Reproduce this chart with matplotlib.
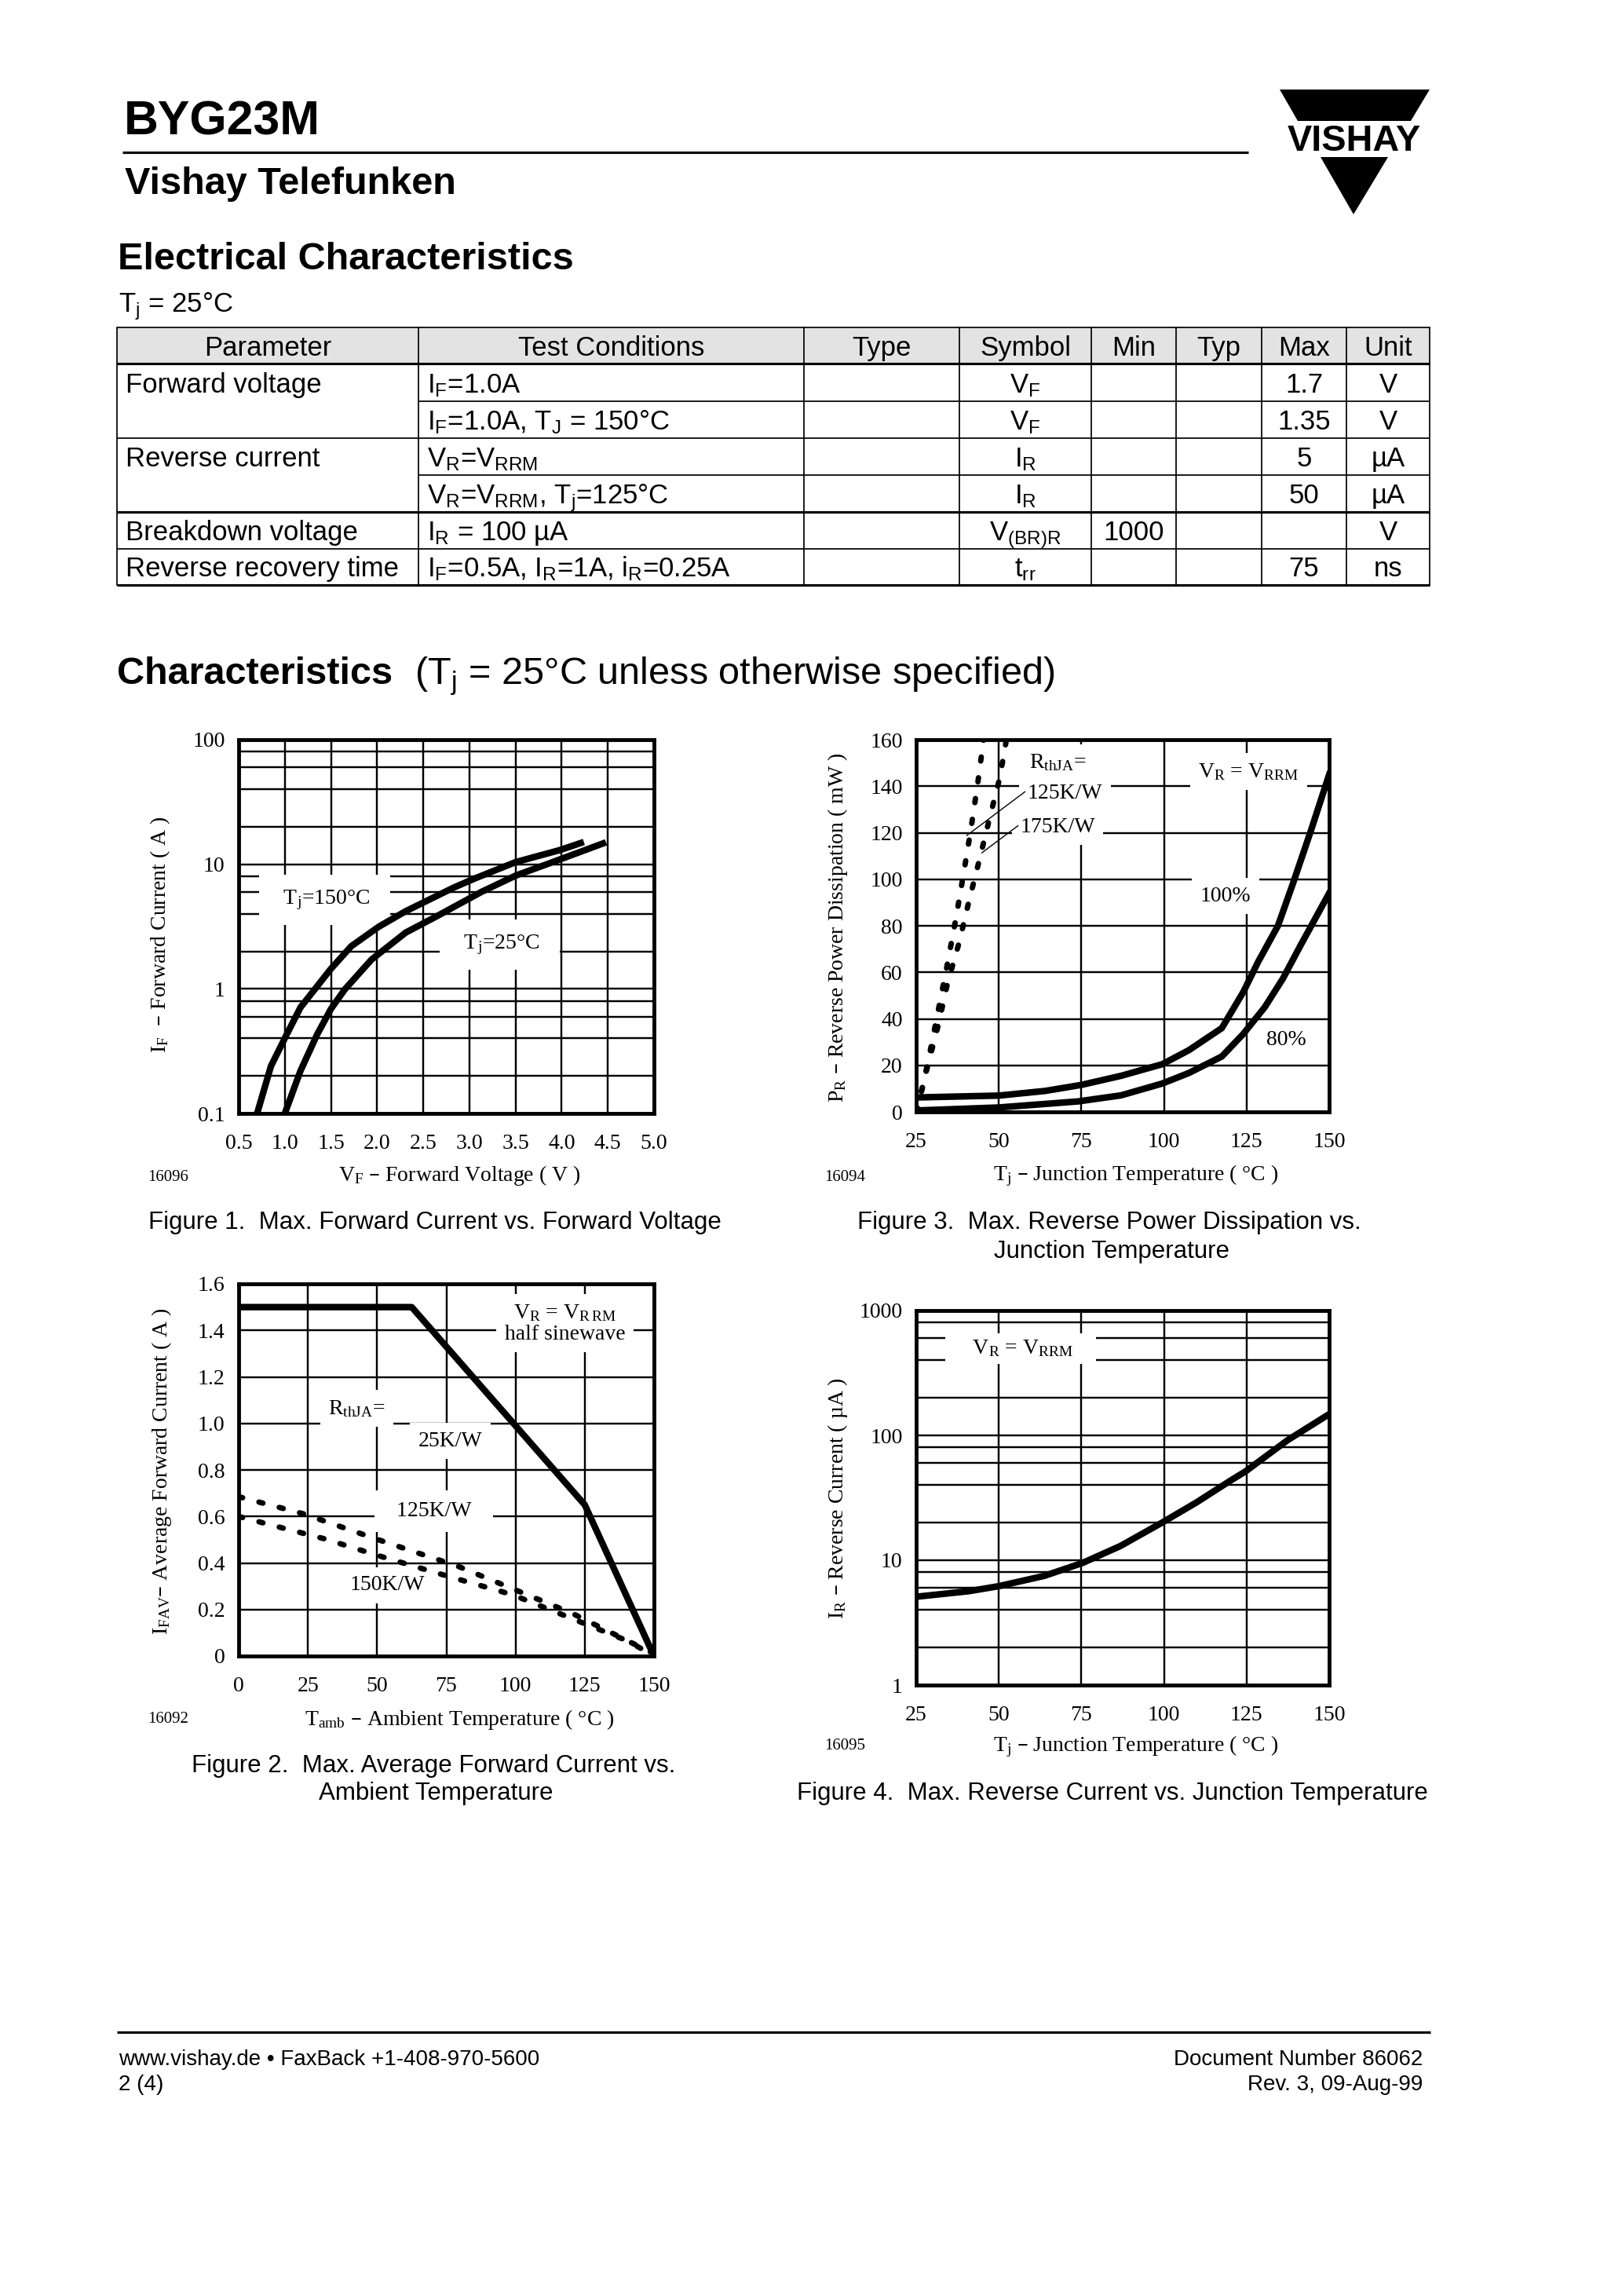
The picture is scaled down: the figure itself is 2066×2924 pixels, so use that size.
import matplotlib
matplotlib.use('Agg')
import matplotlib.pyplot as plt
from matplotlib.patches import Polygon, Rectangle
from matplotlib.ticker import NullFormatter

W, H = 2066, 2924
DPI = 250
SANS = 'Liberation Sans'
SERIF = 'Liberation Serif'

plt.rcParams['font.family'] = SERIF
plt.rcParams['mathtext.default'] = 'regular'

# ---------------- table data ----------------
table_header = ["Parameter", "Test Conditions", "Type", "Symbol", "Min", "Typ", "Max", "Unit"]
table_rows = [
    ["Forward voltage", "$I_F$=1.0A", "", "$V_F$", "", "", "1.7", "V"],
    ["", "$I_F$=1.0A, $T_J$ = 150°C", "", "$V_F$", "", "", "1.35", "V"],
    ["Reverse current", "$V_R$=$V_{RRM}$", "", "$I_R$", "", "", "5", "µA"],
    ["", "$V_R$=$V_{RRM}$, $T_j$=125°C", "", "$I_R$", "", "", "50", "µA"],
    ["Breakdown voltage", "$I_R$ = 100 µA", "", "$V_{(BR)R}$", "1000", "", "", "V"],
    ["Reverse recovery time", "$I_F$=0.5A, $I_R$=1A, $i_R$=0.25A", "", "$t_{rr}$", "", "", "75", "ns"],
]

# ---------------- figure 1: forward current ----------------
vf_150 = [0.70, 0.85, 1.02, 1.17, 1.50, 1.72, 2.02, 2.31, 2.83, 3.06, 3.50, 3.98, 4.24]
if_150 = [0.10, 0.24, 0.43, 0.71, 1.45, 2.2, 3.16, 4.2, 6.5, 7.7, 10.4, 13.0, 15.1]
vf_25 = [1.00, 1.17, 1.35, 1.50, 1.65, 1.94, 2.31, 2.65, 3.13, 3.50, 3.87, 4.48]
if_25 = [0.10, 0.22, 0.43, 0.69, 0.99, 1.72, 2.83, 3.84, 6.0, 8.1, 10.2, 15.0]
f1_xticks = [0.5, 1.0, 1.5, 2.0, 2.5, 3.0, 3.5, 4.0, 4.5, 5.0]
f1_xlabels = ["0.5", "1.0", "1.5", "2.0", "2.5", "3.0", "3.5", "4.0", "4.5", "5.0"]
f1_yticks = [0.1, 1, 10, 100]
f1_ylabels = ["0.1", "1", "10", "100"]
log_minor = [0.2, 0.4, 0.6, 0.8, 2, 4, 6, 8, 20, 40, 60, 80, 200, 400, 600, 800]

# ---------------- figure 3: reverse power dissipation ----------------
tj_100 = [25, 50, 64, 75, 87, 99.5, 107.5, 117.5, 124, 128.5, 134.5, 139, 144.5, 150]
pr_100 = [6.2, 7.0, 9.0, 11.6, 15.5, 20.5, 26.5, 36, 51.5, 64.5, 80, 98, 121, 145]
tj_80 = [25, 50, 74, 87, 99.5, 107.5, 117.5, 124, 130.5, 136, 141.5, 150]
pr_80 = [0.6, 1.9, 4.5, 7.1, 12.2, 16.7, 23.8, 33.5, 45, 57.3, 72, 94]
tj_r125 = [25, 27.0, 29.5, 32.0, 34.5, 37.0, 39.3, 41.5, 43.6, 45.4]
pr_r125 = [0, 11, 28, 46, 64, 83, 102, 121, 141, 160]
tj_r175 = [25, 28.4, 31.7, 34.5, 38.0, 40.9, 44.1, 47.2, 50.3, 52.3]
pr_r175 = [0, 19.3, 37.4, 55.4, 72.8, 90.2, 108.2, 126.2, 143.6, 160]
tj_ticks = [25, 50, 75, 100, 125, 150]
f3_yticks = [0, 20, 40, 60, 80, 100, 120, 140, 160]

# ---------------- figure 2: average forward current ----------------
tamb_25kw = [0, 62.5, 125, 150]
ifav_25kw = [1.5, 1.5, 0.65, 0.0]
tamb_125kw = [0, 23.5, 51.2, 79.6, 100, 120.4, 140.7, 150]
ifav_125kw = [0.685, 0.611, 0.497, 0.384, 0.284, 0.184, 0.064, 0.01]
tamb_150kw = [0, 16, 31, 50.6, 75.3, 98.8, 119.8, 140.7, 150]
ifav_150kw = [0.60, 0.55, 0.504, 0.431, 0.344, 0.264, 0.164, 0.064, 0.0]
f2_xticks = [0, 25, 50, 75, 100, 125, 150]
f2_yticks = [0, 0.2, 0.4, 0.6, 0.8, 1.0, 1.2, 1.4, 1.6]
f2_ylabels = ["0", "0.2", "0.4", "0.6", "0.8", "1.0", "1.2", "1.4", "1.6"]

# ---------------- figure 4: reverse current ----------------
tj_ir = [25, 40.9, 50, 63.8, 75.3, 86.8, 99.4, 109.8, 120.1, 124.7, 137.4, 150]
ir_ua = [5.1, 5.65, 6.2, 7.5, 9.5, 13, 20, 29, 43.4, 51.5, 91.5, 148]
f4_yticks = [1, 10, 100, 1000]
f4_ylabels = ["1", "10", "100", "1000"]

fig = plt.figure(figsize=(W / DPI, H / DPI), dpi=DPI)
page = fig.add_axes([0, 0, 1, 1])
page.set_xlim(0, W)
page.set_ylim(H, 0)
page.axis('off')

# header
page.text(158, 172, "BYG23M", family=SANS, fontsize=17.5, fontweight='bold', va='baseline')
page.plot([156, 1590], [194, 194], color='k', lw=0.9, solid_capstyle='butt')
page.text(159, 247, "Vishay Telefunken", family=SANS, fontsize=14, fontweight='bold', va='baseline')
page.add_patch(Polygon([(1630, 114), (1821, 114), (1797, 154), (1653, 154)], closed=True, color='k', lw=0))
page.add_patch(Polygon([(1682, 200), (1768, 200), (1724, 273)], closed=True, color='k', lw=0))
page.text(1725, 192, "VISHAY", family=SANS, fontsize=13.5, fontweight='bold', ha='center', va='baseline')

page.text(150, 343, "Electrical Characteristics", family=SANS, fontsize=14, fontweight='bold', va='baseline')
page.text(151, 397, "$T_j$ = 25°C", family=SANS, fontsize=10, va='baseline')

# table
cols = [149, 533, 1024, 1222, 1390, 1498, 1607, 1715, 1821]
rows = [417, 463, 511, 558, 605, 652, 699, 745]
page.add_patch(Rectangle((cols[0], rows[0]), cols[-1] - cols[0], rows[1] - rows[0],
                         facecolor='#e3e3e3', edgecolor='none'))
for x in cols:
    page.plot([x, x], [rows[0], rows[-1]], color='k', lw=0.5)
for i, y in enumerate(rows):
    x0 = cols[1] if i in (2, 4) else cols[0]
    lw = 0.9 if i in (1, 5, 7) else 0.5
    page.plot([x0, cols[-1]], [y, y], color='k', lw=lw, solid_capstyle='butt')
for j, h in enumerate(table_header):
    page.text((cols[j] + cols[j + 1]) / 2, rows[1] - 10, h, family=SANS, fontsize=10,
              ha='center', va='baseline')
for i, r in enumerate(table_rows):
    yb = rows[i + 2] - 11
    for j, s in enumerate(r):
        if not s:
            continue
        if j <= 1:
            page.text(cols[j] + 11, yb, s, family=SANS, fontsize=10, ha='left', va='baseline')
        else:
            page.text((cols[j] + cols[j + 1]) / 2, yb, s, family=SANS, fontsize=10,
                      ha='center', va='baseline')

page.text(149, 871, "Characteristics", family=SANS, fontsize=14, fontweight='bold', va='baseline')
page.text(528, 871, "($T_j$ = 25°C unless otherwise specified)", family=SANS, fontsize=14, va='baseline')


def make_ax(l, t, r, b):
    ax = fig.add_axes([l / W, 1 - b / H, (r - l) / W, (b - t) / H])
    for s in ax.spines.values():
        s.set_linewidth(1.4)
    ax.tick_params(which='both', length=0, labelsize=8)
    ax.tick_params(axis='x', pad=7.5)
    ax.tick_params(axis='y', pad=5)
    ax.set_axisbelow(True)
    return ax


box = dict(facecolor='white', edgecolor='none', pad=3)
dots = dict(color='k', lw=2.0, linestyle=(0, (0.75, 3.1)), dash_capstyle='round', zorder=4)
solid = dict(color='k', lw=2.4, zorder=4)

# figure 1
ax1 = make_ax(304, 942, 833, 1418)
ax1.set_yscale('log')
ax1.set_xlim(0.5, 5.0)
ax1.set_ylim(0.1, 100)
ax1.set_xticks(f1_xticks, f1_xlabels)
ax1.set_yticks(f1_yticks, f1_ylabels)
ax1.set_yticks([v for v in log_minor if v < 100], minor=True)
ax1.yaxis.set_minor_formatter(NullFormatter())
ax1.grid(True, which='both', color='k', lw=0.7)
ax1.plot(vf_150, if_150, solid_capstyle='butt', **solid)
ax1.plot(vf_25, if_25, solid_capstyle='butt', **solid)
ax1.text(1.43, 5.2, "  $T_j$=150°C  ", fontsize=8, ha='center', va='center',
         bbox=dict(facecolor='white', edgecolor='none', pad=5))
ax1.text(3.33, 2.27, "  $T_j$=25°C  ", fontsize=8, ha='center', va='center',
         bbox=dict(facecolor='white', edgecolor='none', pad=5))

# figure 3
ax3 = make_ax(1167, 942, 1693, 1416)
ax3.set_xlim(25, 150)
ax3.set_ylim(0, 160)
ax3.set_xticks(tj_ticks)
ax3.set_yticks(f3_yticks)
ax3.grid(True, color='k', lw=0.7)
ax3.plot(tj_r125, pr_r125, **dots)
ax3.plot(tj_r175, pr_r175, **dots)
ax3.plot(tj_100, pr_100, **solid)
ax3.plot(tj_80, pr_80, **solid)
ax3.plot([40.3, 57.9], [118.8, 137.6], color='k', lw=0.4, zorder=4)
ax3.plot([44.9, 55.8], [111.4, 123.0], color='k', lw=0.4, zorder=4)
ax3.text(59.2, 150, "$R_{thJA}$=", fontsize=8, ha='left', va='center', bbox=box)
ax3.text(58.7, 136.8, "125K/W", fontsize=8, ha='left', va='center', bbox=box)
ax3.text(56.4, 122.4, "175K/W", fontsize=8, ha='left', va='center', bbox=box)
ax3.text(110.4, 146.2, "$V_R$ = $V_{RRM}$", fontsize=8, ha='left', va='center', bbox=box)
ax3.text(118.6, 92.7, "100%", fontsize=8, ha='center', va='center', bbox=box)
ax3.text(137.0, 30.9, "80%", fontsize=8, ha='center', va='center', bbox=box)

# figure 2
ax2 = make_ax(304, 1635, 833, 2109)
ax2.set_xlim(0, 150)
ax2.set_ylim(0, 1.6)
ax2.set_xticks(f2_xticks)
ax2.set_yticks(f2_yticks, f2_ylabels)
ax2.grid(True, color='k', lw=0.7)
ax2.plot(tamb_125kw, ifav_125kw, **dots)
ax2.plot(tamb_150kw, ifav_150kw, **dots)
ax2.plot(tamb_25kw, ifav_25kw, **solid)
ax2.text(117.9, 1.43, "$V_R$ = $V_{R\\,RM}$\nhalf sinewave", fontsize=8, ha='center', va='center',
         linespacing=1.1, bbox=box)
ax2.text(42.6, 1.064, "$R_{thJA}$=", fontsize=8, ha='center', va='center', bbox=box)
ax2.text(76.5, 0.924, "25K/W", fontsize=8, ha='center', va='center', bbox=box)
ax2.text(70.4, 0.624, "  125K/W  ", fontsize=8, ha='center', va='center',
         bbox=dict(facecolor='white', edgecolor='none', pad=4))
ax2.text(53.7, 0.304, "150K/W", fontsize=8, ha='center', va='center', bbox=box)

# figure 4
ax4 = make_ax(1167, 1669, 1693, 2146)
ax4.set_yscale('log')
ax4.set_xlim(25, 150)
ax4.set_ylim(1, 1000)
ax4.set_xticks(tj_ticks)
ax4.set_yticks(f4_yticks, f4_ylabels)
ax4.set_yticks([v for v in log_minor if v > 1], minor=True)
ax4.yaxis.set_minor_formatter(NullFormatter())
ax4.grid(True, which='both', color='k', lw=0.7)
ax4.plot(tj_ir, ir_ua, **solid)
ax4.text(56.6, 496, "    $V_R$ = $V_{RRM}$    ", fontsize=8, ha='center', va='center',
         bbox=dict(facecolor='white', edgecolor='none', pad=2))

# axis labels, ids and captions in page pixels
lab = dict(fontsize=8, ha='center', va='center')
page.text(585, 1497, "$V_F$ – Forward Voltage ( V )", **lab)
page.text(204, 1190, "$I_F$  – Forward Current ( A )", rotation=90, **lab)
page.text(1447, 1497, "$T_j$ – Junction Temperature ( °C )", **lab)
page.text(1067, 1181, "$P_R$ – Reverse Power Dissipation ( mW )", rotation=90, **lab)
page.text(585, 2190, "$T_{amb}$ – Ambient Temperature ( °C )", **lab)
page.text(206, 1874, "$I_{FAV}$– Average Forward Current ( A )", rotation=90, **lab)
page.text(1447, 2224, "$T_j$ – Junction Temperature ( °C )", **lab)
page.text(1067, 1908, "$I_R$ – Reverse Current ( µA )", rotation=90, **lab)

ids = dict(fontsize=6, ha='left', va='center')
page.text(188, 1499, "16096", **ids)
page.text(1050, 1499, "16094", **ids)
page.text(188, 2190, "16092", **ids)
page.text(1050, 2224, "16095", **ids)

cap = dict(family=SANS, fontsize=9, ha='center', va='center')
page.text(554, 1557, "Figure 1.  Max. Forward Current vs. Forward Voltage", **cap)
page.text(1413, 1557, "Figure 3.  Max. Reverse Power Dissipation vs.", **cap)
page.text(1416, 1594, "Junction Temperature", **cap)
page.text(552, 2249, "Figure 2.  Max. Average Forward Current vs.", **cap)
page.text(555, 2284, "Ambient Temperature", **cap)
page.text(1417, 2284, "Figure 4.  Max. Reverse Current vs. Junction Temperature", **cap)

# footer
page.plot([149, 1822], [2588, 2588], color='k', lw=0.9, solid_capstyle='butt')
foot = dict(family=SANS, fontsize=8, va='baseline')
page.text(151, 2630, "www.vishay.de • FaxBack +1-408-970-5600", ha='left', **foot)
page.text(151, 2662, "2 (4)", ha='left', **foot)
page.text(1812, 2630, "Document Number 86062", ha='right', **foot)
page.text(1812, 2662, "Rev. 3, 09-Aug-99", ha='right', **foot)

fig.savefig('out.png', dpi=DPI)
